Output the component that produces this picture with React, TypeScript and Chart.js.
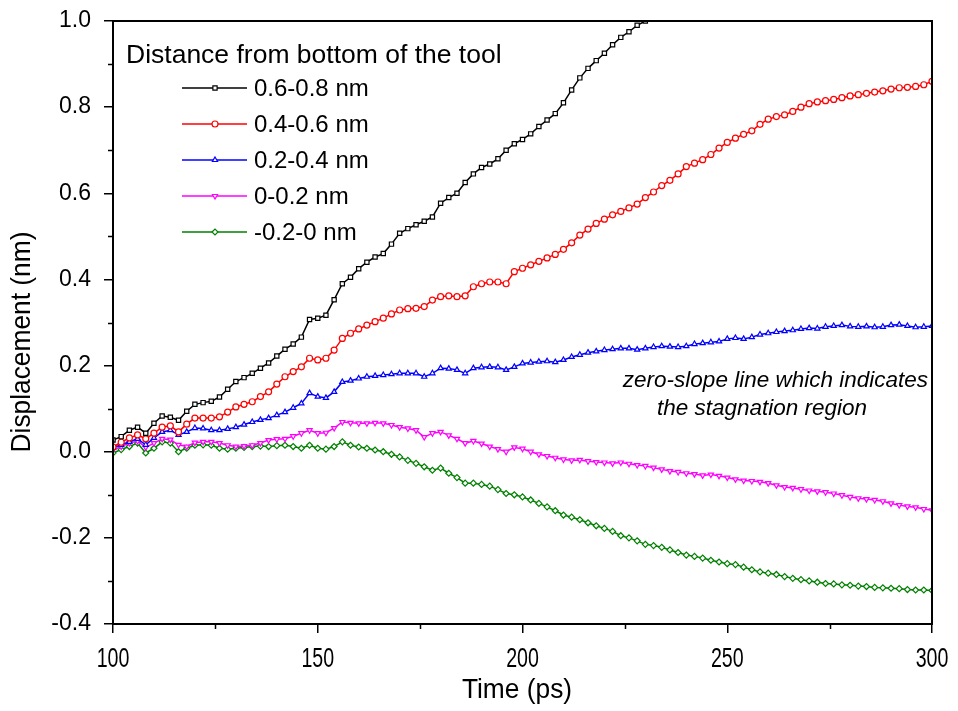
import React, { useEffect, useRef } from "react";
import { Chart, registerables } from "chart.js";
import { drawPoint } from "chart.js/helpers";

Chart.register(...registerables);

const TIMES_2PS: number[] = [
  100, 102, 104, 106, 108, 110, 112, 114, 116, 118, 120, 122, 124, 126, 128, 130, 132, 134, 136, 138,
  140, 142, 144, 146, 148, 150, 152, 154, 156, 158, 160, 162, 164, 166, 168, 170, 172, 174, 176, 178,
  180, 182, 184, 186, 188, 190, 192, 194, 196, 198, 200, 202, 204, 206, 208, 210, 212, 214, 216, 218,
  220, 222, 224, 226, 228, 230, 232, 234, 236, 238, 240, 242, 244, 246, 248, 250, 252, 254, 256, 258,
  260, 262, 264, 266, 268, 270, 272, 274, 276, 278, 280, 282, 284, 286, 288, 290, 292, 294, 296, 298, 300,
];

const SERIES_LABELS = ["0.6-0.8 nm", "0.4-0.6 nm", "0.2-0.4 nm", "0-0.2 nm", "-0.2-0 nm"];

const D_06_08: number[] = [
  0.027, 0.035, 0.05, 0.057, 0.043, 0.066, 0.083, 0.08, 0.073, 0.094, 0.11, 0.114, 0.117, 0.127, 0.145,
  0.163, 0.172, 0.182, 0.194, 0.206, 0.222, 0.238, 0.25, 0.266, 0.307, 0.31, 0.317, 0.353, 0.39, 0.405,
  0.425, 0.44, 0.452, 0.46, 0.482, 0.507, 0.518, 0.527, 0.535, 0.545, 0.577, 0.59, 0.6, 0.625, 0.645,
  0.66, 0.668, 0.68, 0.7, 0.715, 0.725, 0.738, 0.755, 0.77, 0.785, 0.81, 0.84, 0.868, 0.89, 0.908,
  0.925, 0.945, 0.962, 0.975, 0.99, 1.0, 1.015, 1.03,
];

const D_04_06: number[] = [
  0.011, 0.022, 0.032, 0.039, 0.03, 0.043, 0.057, 0.06, 0.046, 0.064, 0.078, 0.078, 0.078, 0.081, 0.092,
  0.104, 0.11, 0.116, 0.128, 0.139, 0.157, 0.174, 0.186, 0.197, 0.217, 0.213, 0.217, 0.236, 0.263, 0.275,
  0.285, 0.294, 0.302, 0.31, 0.32, 0.329, 0.332, 0.333, 0.337, 0.352, 0.36, 0.362, 0.36, 0.362, 0.383,
  0.39, 0.394, 0.394, 0.39, 0.418, 0.426, 0.434, 0.442, 0.45, 0.458, 0.47, 0.485, 0.503, 0.517, 0.53,
  0.54, 0.55, 0.558, 0.566, 0.575, 0.59, 0.603, 0.618, 0.63, 0.645, 0.662, 0.67, 0.678, 0.69, 0.705,
  0.718, 0.728, 0.737, 0.745, 0.76, 0.772, 0.778, 0.782, 0.79, 0.8, 0.808, 0.812, 0.815, 0.818, 0.822,
  0.826, 0.829, 0.832, 0.835, 0.838, 0.842, 0.845, 0.846, 0.848, 0.852, 0.86,
];

const D_02_04: number[] = [
  0.009, 0.016, 0.023, 0.03, 0.016, 0.032, 0.046, 0.05, 0.039, 0.046, 0.055, 0.054, 0.05, 0.05, 0.053,
  0.057, 0.063, 0.069, 0.074, 0.078, 0.085, 0.092, 0.102, 0.112, 0.136, 0.128, 0.125, 0.139, 0.162, 0.165,
  0.17, 0.174, 0.176, 0.178, 0.18, 0.182, 0.182, 0.182, 0.174, 0.182, 0.194, 0.193, 0.19, 0.182, 0.194,
  0.196, 0.197, 0.196, 0.19, 0.197, 0.205, 0.207, 0.209, 0.21, 0.208, 0.213, 0.22, 0.225, 0.23, 0.233,
  0.236, 0.238, 0.24, 0.24, 0.237, 0.24, 0.243, 0.245, 0.244, 0.243, 0.245, 0.25, 0.252, 0.254, 0.256,
  0.262, 0.264, 0.262, 0.266, 0.272, 0.275, 0.278, 0.28, 0.282, 0.285, 0.287, 0.286, 0.29, 0.292, 0.294,
  0.291, 0.29, 0.291, 0.289, 0.29, 0.294, 0.295, 0.292, 0.289, 0.29, 0.292,
];

const D_00_02: number[] = [
  0.004, 0.012, 0.02, 0.025, 0.01, 0.02, 0.03, 0.028, 0.016, 0.012, 0.021, 0.023, 0.023, 0.02, 0.015,
  0.012, 0.013, 0.015, 0.02, 0.027, 0.029, 0.03, 0.036, 0.043, 0.05, 0.043, 0.044, 0.055, 0.069, 0.067,
  0.066, 0.066, 0.067, 0.066, 0.062, 0.057, 0.054, 0.05, 0.034, 0.043, 0.046, 0.038, 0.03, 0.02, 0.025,
  0.019, 0.012, 0.006, 0.0, 0.01, 0.007, 0.0, -0.006, -0.01, -0.014, -0.018, -0.02, -0.019, -0.022, -0.024,
  -0.025, -0.027, -0.025, -0.028, -0.031, -0.033, -0.037, -0.041, -0.045, -0.047, -0.05, -0.052, -0.055,
  -0.053, -0.056, -0.06, -0.064, -0.067, -0.068, -0.07, -0.073, -0.078, -0.082, -0.084, -0.087, -0.09,
  -0.092, -0.094, -0.097, -0.101, -0.105, -0.108, -0.11, -0.112, -0.115, -0.12, -0.124, -0.127, -0.129,
  -0.133, -0.136,
];

const D_M02_00: number[] = [
  -0.003, 0.005, 0.012, 0.02, -0.003, 0.008, 0.023, 0.02, 0.0, 0.008, 0.015, 0.016, 0.015, 0.008, 0.006,
  0.008, 0.01, 0.012, 0.013, 0.012, 0.014, 0.015, 0.012, 0.008, 0.015, 0.008, 0.006, 0.012, 0.023, 0.015,
  0.011, 0.008, 0.004, 0.0, -0.006, -0.012, -0.02, -0.027, -0.035, -0.043, -0.038, -0.05, -0.06, -0.073,
  -0.073, -0.076, -0.08, -0.088, -0.097, -0.1, -0.105, -0.112, -0.12, -0.128, -0.137, -0.147, -0.152,
  -0.158, -0.165, -0.172, -0.178, -0.185, -0.195, -0.2, -0.207, -0.215, -0.218, -0.222, -0.228, -0.234,
  -0.24, -0.243, -0.247, -0.252, -0.256, -0.26, -0.262, -0.268, -0.274, -0.279, -0.282, -0.285, -0.29,
  -0.294, -0.297, -0.3, -0.303, -0.306, -0.307, -0.309, -0.31, -0.312, -0.313, -0.315, -0.316, -0.317,
  -0.318, -0.32, -0.321, -0.321, -0.322,
];

const SERIES_VALUES = [D_06_08, D_04_06, D_02_04, D_00_02, D_M02_00];
const SERIES_COLORS = ["#000000", "#ff0000", "#0000ff", "#ff00ff", "#008000"];
const SERIES_MARKERS = ["rect", "circle", "triangle", "triangle", "rectRot"];
const SERIES_ROTATION = [0, 0, 0, 180, 0];

const X_MIN = 100, X_MAX = 300, X_STEP = 50;
const Y_MIN = -0.4, Y_MAX = 1.0, Y_STEP = 0.2;
const X_MINOR = [125, 175, 225, 275];
const Y_MINOR = [-0.3, -0.1, 0.1, 0.3, 0.5, 0.7, 0.9];

const X_TITLE = "Time (ps)";
const Y_TITLE = "Displacement (nm)";
const LEGEND_TITLE = "Distance from bottom of the tool";
const NOTE_LINES = ["zero-slope line which indicates", "the stagnation region"];

const SANS = "'Liberation Sans', Arial, sans-serif";

function narrowText(ctx: CanvasRenderingContext2D, text: string, x: number, y: number, sx: number) {
  ctx.save();
  ctx.translate(x, y);
  ctx.scale(sx, 1);
  ctx.fillText(text, 0, 0);
  ctx.restore();
}

const decorPlugin = {
  id: "decor",
  afterDraw(chart: any) {
    const { ctx, chartArea } = chart;
    const { left, right, top, bottom } = chartArea;
    const xs = chart.scales.x;
    const ys = chart.scales.y;
    ctx.save();
    // frame
    ctx.strokeStyle = "#000";
    ctx.lineWidth = 2;
    ctx.strokeRect(left, top, right - left, bottom - top);
    // minor ticks
    ctx.lineWidth = 1.5;
    ctx.beginPath();
    for (const v of X_MINOR) {
      const px = Math.round(xs.getPixelForValue(v)) + 0.5;
      ctx.moveTo(px, bottom);
      ctx.lineTo(px, bottom + 5);
    }
    for (const v of Y_MINOR) {
      const py = Math.round(ys.getPixelForValue(v)) + 0.5;
      ctx.moveTo(left - 5, py);
      ctx.lineTo(left, py);
    }
    ctx.stroke();

    ctx.fillStyle = "#000";
    ctx.textAlign = "center";
    ctx.textBaseline = "middle";

    // x tick labels (condensed face)
    ctx.font = `28px ${SANS}`;
    for (const t of xs.ticks) {
      narrowText(ctx, String(t.value), xs.getPixelForValue(t.value), 659, 0.7);
    }

    // axis titles
    ctx.font = `28px ${SANS}`;
    narrowText(ctx, X_TITLE, 517, 690, 0.94);
    ctx.save();
    ctx.translate(22, 342);
    ctx.rotate(-Math.PI / 2);
    narrowText(ctx, Y_TITLE, 0, 0, 0.94);
    ctx.restore();

    // legend
    ctx.textAlign = "left";
    ctx.font = `26.5px ${SANS}`;
    ctx.fillText(LEGEND_TITLE, 126, 56);
    ctx.font = `24px ${SANS}`;
    chart.data.datasets.forEach((ds: any, i: number) => {
      const cy = 88 + i * 36;
      ctx.strokeStyle = ds.borderColor;
      ctx.lineWidth = 1.5;
      ctx.beginPath();
      ctx.moveTo(182, cy);
      ctx.lineTo(247, cy);
      ctx.stroke();
      ctx.fillStyle = "#fff";
      ctx.lineWidth = 1.2;
      drawPoint(ctx, { pointStyle: ds.pointStyle, rotation: ds.pointRotation, radius: 3, borderWidth: 1.2 } as any, 215, cy);
      ctx.fillStyle = "#000";
      ctx.fillText(ds.label, 254, cy + 1);
    });

    // note
    ctx.font = `italic 22.5px ${SANS}`;
    ctx.textAlign = "right";
    ctx.fillText(NOTE_LINES[0], 928, 381);
    ctx.textAlign = "center";
    ctx.fillText(NOTE_LINES[1], 762, 409);
    ctx.restore();
  },
};

export default function App() {
  const ref = useRef<HTMLCanvasElement | null>(null);
  useEffect(() => {
    if (!ref.current) return;
    Chart.defaults.color = "#000";
    const datasets = SERIES_LABELS.map((label, i) => ({
      label,
      data: SERIES_VALUES[i].map((v, j) => ({ x: TIMES_2PS[j], y: v })),
      borderColor: SERIES_COLORS[i],
      backgroundColor: SERIES_COLORS[i],
      borderWidth: 1.5,
      pointStyle: SERIES_MARKERS[i],
      pointRotation: SERIES_ROTATION[i],
      pointRadius: 3,
      pointBorderWidth: 1.2,
      pointBorderColor: SERIES_COLORS[i],
      pointBackgroundColor: "#ffffff",
      tension: 0,
    }));
    const chart = new Chart(ref.current, {
      type: "line",
      data: { datasets } as any,
      options: {
        responsive: false,
        animation: false,
        devicePixelRatio: 1,
        layout: { padding: { top: 21, right: 26, left: 0, bottom: 0 } },
        plugins: { legend: { display: false }, tooltip: { enabled: false } },
        scales: {
          x: {
            type: "linear",
            min: X_MIN,
            max: X_MAX,
            afterFit: (s: any) => {
              s.height = 87;
              s.paddingLeft = 0;
              s.paddingRight = 0;
            },
            ticks: { stepSize: X_STEP, display: false },
            grid: { drawOnChartArea: false, drawTicks: true, tickLength: 9, color: "#000", lineWidth: 1.5 },
            border: { display: true, color: "#000", width: 2 },
          },
          y: {
            type: "linear",
            min: Y_MIN,
            max: Y_MAX,
            afterFit: (s: any) => {
              s.width = 113;
              s.paddingTop = 0;
              s.paddingBottom = 0;
            },
            ticks: {
              stepSize: Y_STEP,
              color: "#000",
              padding: 13,
              font: { family: SANS, size: 23 },
              callback: (v: any) => {
                const r = Math.round(Number(v) * 10) / 10;
                return (r === 0 ? 0 : r).toFixed(1);
              },
            },
            grid: { drawOnChartArea: false, drawTicks: true, tickLength: 9, color: "#000", lineWidth: 1.5 },
            border: { display: true, color: "#000", width: 2 },
          },
        },
      } as any,
      plugins: [decorPlugin],
    });
    return () => chart.destroy();
  }, []);
  return (
    <div style={{ position: "fixed", left: 0, top: 0, width: 958, height: 711, background: "#fff" }}>
      <canvas ref={ref} width={958} height={711} style={{ display: "block" }} />
    </div>
  );
}
